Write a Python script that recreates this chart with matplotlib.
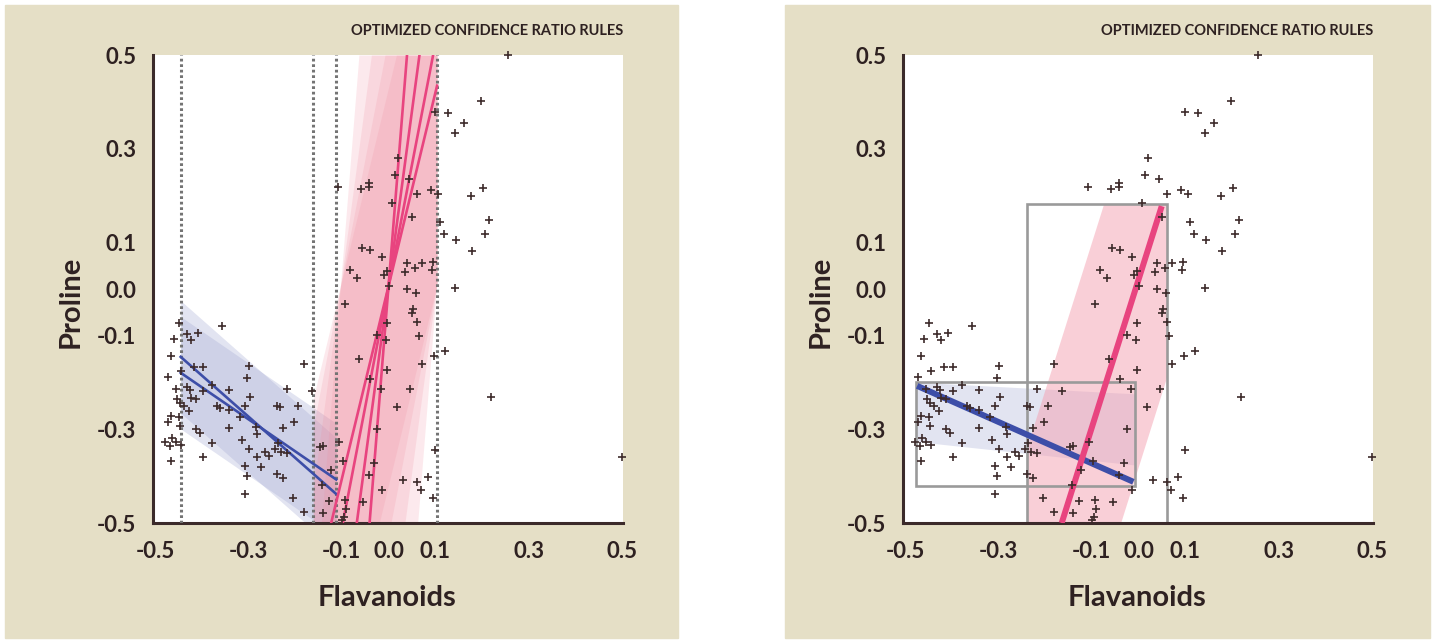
import numpy as np
import matplotlib.pyplot as plt
from matplotlib.patches import Rectangle

plt.rcParams['font.family'] = ['Lato', 'DejaVu Sans']
plt.rcParams['font.weight'] = 'bold'

# normalised wine data
flavanoids = [
    -0.449, -0.356, -0.432, -0.407, -0.459, -0.423, -0.465, -0.416, -0.397, -0.298,
    -0.182, -0.444, -0.473, -0.302, -0.379, -0.456, -0.432, -0.425, -0.397, -0.342,
    -0.217, -0.164, -0.452, -0.424, -0.413, -0.297, -0.446, -0.437, -0.428, -0.368,
    -0.361, -0.342, -0.308, -0.239, -0.233, -0.194, -0.466, -0.448, -0.472, -0.318,
    -0.202, -0.446, -0.342, -0.284, -0.225, -0.412, -0.404, -0.281, -0.463, -0.479,
    -0.468, -0.454, -0.444, -0.379, -0.313, -0.237, -0.298, -0.243, -0.231, -0.217,
    -0.264, -0.256, -0.282, -0.397, -0.465, -0.273, -0.308, -0.302, -0.239, -0.225,
    -0.308, -0.204, -0.182,
    -0.000, 0.039, 0.059, -0.093, 0.053, 0.050, 0.060, -0.003, -0.024, 0.066,
    -0.005, 0.122, 0.097, -0.063, 0.072, -0.003, -0.040, -0.016, 0.046, 0.019,
    -0.024, -0.105, -0.147, -0.140, 0.100, -0.097, -0.032, -0.123, -0.042, 0.032,
    0.060, 0.084, -0.142, 0.069, -0.014, 0.096, -0.093, -0.127, -0.054, -0.092,
    -0.140, -0.095, -0.100,
    0.100, 0.127, 0.020, 0.014, 0.044, -0.108, -0.058, -0.041, -0.041, 0.060,
    0.090, 0.107, 0.008, 0.051, 0.111, 0.119, -0.057, -0.039, -0.013, -0.082,
    -0.068, -0.003, -0.010, 0.040, 0.057, 0.072, 0.095, 0.094, 0.036,
    0.255, 0.199, 0.162, 0.143, 0.203, 0.177, 0.216, 0.145, 0.207, 0.178,
    0.143, 0.220, 0.500,
]
proline = [
    -0.072, -0.079, -0.096, -0.093, -0.107, -0.110, -0.143, -0.166, -0.167, -0.165,
    -0.160, -0.175, -0.187, -0.190, -0.206, -0.213, -0.210, -0.216, -0.217, -0.216,
    -0.214, -0.219, -0.234, -0.232, -0.236, -0.231, -0.244, -0.251, -0.261, -0.250,
    -0.255, -0.259, -0.250, -0.250, -0.253, -0.249, -0.271, -0.274, -0.284, -0.273,
    -0.284, -0.293, -0.298, -0.294, -0.296, -0.300, -0.308, -0.310, -0.319, -0.326,
    -0.335, -0.326, -0.333, -0.330, -0.323, -0.330, -0.342, -0.342, -0.348, -0.351,
    -0.348, -0.357, -0.358, -0.358, -0.367, -0.380, -0.378, -0.399, -0.396, -0.404,
    -0.437, -0.447, -0.476,
    0.006, -0.001, -0.009, -0.031, -0.043, -0.052, -0.070, -0.073, -0.098, -0.100,
    -0.109, -0.133, -0.143, -0.150, -0.160, -0.173, -0.192, -0.214, -0.214, -0.253,
    -0.299, -0.327, -0.337, -0.335, -0.344, -0.368, -0.372, -0.387, -0.397, -0.408,
    -0.412, -0.402, -0.419, -0.429, -0.430, -0.447, -0.451, -0.454, -0.456, -0.470,
    -0.479, -0.487, -0.494,
    0.378, 0.376, 0.279, 0.243, 0.235, 0.219, 0.213, 0.226, 0.217, 0.203,
    0.212, 0.204, 0.183, 0.154, 0.143, 0.118, 0.088, 0.083, 0.069, 0.041,
    0.024, 0.039, 0.030, 0.056, 0.044, 0.055, 0.058, 0.041, 0.036,
    0.500, 0.402, 0.354, 0.333, 0.215, 0.199, 0.147, 0.105, 0.118, 0.081,
    0.002, -0.231, -0.360,
]

ticks = [-0.5, -0.3, -0.1, 0.0, 0.1, 0.3, 0.5]
tick_labels = ['-0.5', '-0.3', '-0.1', '0.0', '0.1', '0.3', '0.5']

# left panel: rule borders
rule_edges = [-0.445, -0.161, -0.112, 0.104]
# negative rules: x range and y at both ends
neg_x = [-0.445, -0.112]
neg_y_start = [-0.145, -0.179]
neg_y_end = [-0.438, -0.407]
neg_halfwidth = 0.12
# positive rules: all go through one point
pos_x = [-0.161, 0.104]
pos_center = (0.0, 0.006)
pos_slopes = [12.47, 7.45, 5.17, 4.12]
pos_halfwidth = 0.103

# right panel: optimized rules
opt_neg_box = [-0.476, -0.008, -0.422, -0.199]   # x0, x1, y0, y1
opt_neg_line = [-0.207, -0.412]
opt_neg_band_top = [-0.199, -0.224]
opt_neg_band_bot = [-0.326, -0.376]
opt_pos_box = [-0.238, 0.060, -0.5, 0.182]
opt_pos_line_x = [-0.1645, 0.0497]
opt_pos_line_y = [-0.5, 0.177]
opt_pos_halfwidth = 0.126

W, H = 1433, 642
BEIGE = '#e5dfc6'
TXT = '#2e2121'
BLUE = '#3d4ea8'
PINK = '#e8447f'

fig = plt.figure(figsize=(W / 100, H / 100), dpi=100)
for x0, x1 in [(5, 678), (785, 1430)]:
    fig.patches.append(Rectangle((x0 / W, 1 - 638 / H), (x1 - x0) / W, 633 / H,
                                 transform=fig.transFigure, color=BEIGE, zorder=-5))

ax1 = fig.add_axes([153 / W, 1 - 523 / H, 470 / W, 468 / H])
ax2 = fig.add_axes([903 / W, 1 - 523 / H, 470 / W, 468 / H])

for ax in (ax1, ax2):
    ax.set_zorder(2)
    ax.set_facecolor('white')
    ax.set_xlim(-0.5043, 0.5021)
    ax.set_ylim(-0.5, 0.5)
    for s in ('top', 'right'):
        ax.spines[s].set_visible(False)
    for s in ('left', 'bottom'):
        ax.spines[s].set_color('#3b2a2a')
        ax.spines[s].set_linewidth(2.2)
    ax.set_xticks(ticks)
    ax.set_xticklabels(tick_labels)
    ax.set_yticks(ticks)
    ax.set_yticklabels(tick_labels)
    ax.tick_params(axis='x', length=0, pad=13, labelsize=16, labelcolor=TXT)
    ax.tick_params(axis='y', length=0, pad=12, labelsize=16, labelcolor=TXT)
    ax.scatter(flavanoids, proline, marker='+', s=40, c='#3d2b2b', linewidths=1.2,
               zorder=6, clip_on=False)
    ax.text(1.0, 1.052, 'OPTIMIZED CONFIDENCE RATIO RULES', transform=ax.transAxes,
            ha='right', va='center', fontsize=10.5, color=TXT)
    ax.text(0.497, -0.16, 'Flavanoids', transform=ax.transAxes, ha='center',
            va='center', fontsize=21, color=TXT)
    ax.text(-0.175, 0.472, 'Proline', transform=ax.transAxes, ha='center',
            va='center', rotation=90, fontsize=21, color=TXT)

# ---- left panel ----
for y0, y1 in zip(neg_y_start, neg_y_end):
    ax1.fill_between(neg_x, [y0 - neg_halfwidth, y1 - neg_halfwidth],
                     [y0 + neg_halfwidth, y1 + neg_halfwidth],
                     color='#a0a6d2', alpha=0.3, lw=0, zorder=1)
    ax1.plot(neg_x, [y0, y1], color=BLUE, lw=1.9, zorder=4)

yy = np.linspace(-0.5, 0.5, 400)
cx, cy = pos_center
for s in pos_slopes:
    xc = cx + (yy - cy) / s
    xl = np.clip(xc - pos_halfwidth, pos_x[0], pos_x[1])
    xr = np.clip(xc + pos_halfwidth, pos_x[0], pos_x[1])
    ax1.fill_betweenx(yy, xl, xr, color='#f08a9c', alpha=0.18, lw=0, zorder=1)
    xs = np.array(pos_x)
    ax1.plot(xs, cy + s * (xs - cx), color=PINK, lw=1.9, zorder=4)

for e in rule_edges:
    ax1.axvline(e, color='#747474', lw=2.2, ls=(0, (0.9, 0.9)), zorder=3)

# ---- right panel ----
bx0, bx1, by0, by1 = opt_neg_box
ax2.fill_between([bx0, bx1], opt_neg_band_bot, opt_neg_band_top,
                 color='#a0a6d2', alpha=0.3, lw=0, zorder=1)
px0, px1, py0, py1 = opt_pos_box
yy2 = np.linspace(py0, py1, 400)
slope = (opt_pos_line_y[1] - opt_pos_line_y[0]) / (opt_pos_line_x[1] - opt_pos_line_x[0])
xc2 = opt_pos_line_x[0] + (yy2 - opt_pos_line_y[0]) / slope
ax2.fill_betweenx(yy2, np.clip(xc2 - opt_pos_halfwidth, px0, px1),
                  np.clip(xc2 + opt_pos_halfwidth, px0, px1),
                  color='#f4a0b0', alpha=0.5, lw=0, zorder=1)
for x0, x1, y0, y1 in (opt_neg_box, opt_pos_box):
    ax2.add_patch(Rectangle((x0, y0), x1 - x0, y1 - y0, fill=False,
                            ec='#9a9a9a', lw=1.9, zorder=2))
ax2.plot([bx0 + 0.002, bx1 - 0.003], opt_neg_line, color=BLUE, lw=4.3,
         solid_capstyle='butt', zorder=4)
ax2.plot(opt_pos_line_x, opt_pos_line_y, color=PINK, lw=4.3,
         solid_capstyle='butt', zorder=4)

fig.savefig('out.png', dpi=100)
